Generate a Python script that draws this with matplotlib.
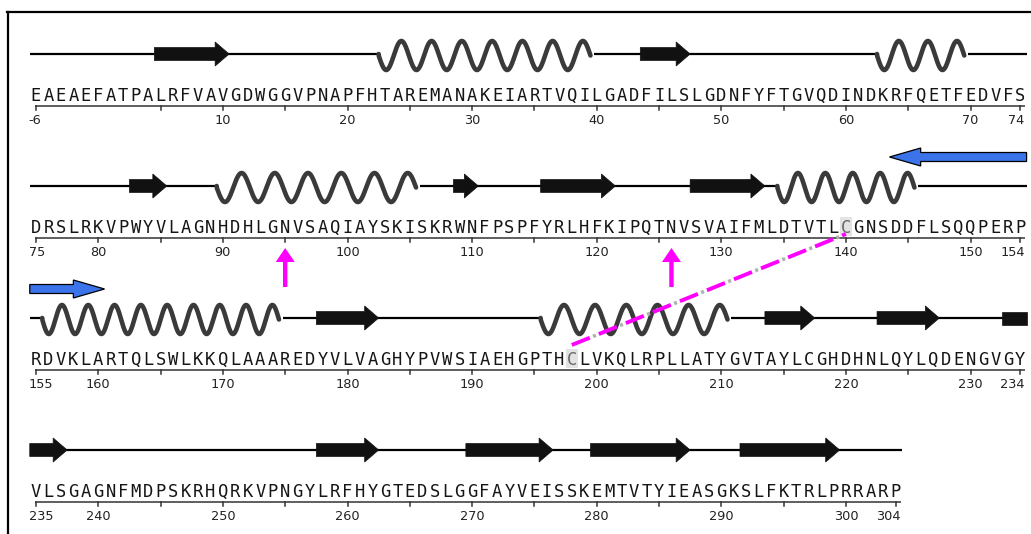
import numpy as np
import matplotlib
matplotlib.use("Agg")
import matplotlib.pyplot as plt
from matplotlib.patches import Polygon, Rectangle
from matplotlib.lines import Line2D

# ---------------- data ----------------
sequence_rows = [
    "EAEAEFATPALRFVAVGDWGGVPNAPFHTAREMANAKEIARTVQILGADFILSLGDNFYFTGVQDINDKRFQETFEDVFS",
    "DRSLRKVPWYVLAGNHDHLGNVSAQIAYSKISKRWNFPSPFYRLHFKIPQTNVSVAIFMLDTVTLCGNSDDFLSQQPERP",
    "RDVKLARTQLSWLKKQLAAAREDYVLVAGHYPVWSIAEHGPTHCLVKQLRPLLATYGVTAYLCGHDHNLQYLQDENGVGY",
    "VLSGAGNFMDPSKRHQRKVPNGYLRFHYGTEDSLGGFAYVEISSKEMTVTYIEASGKSLFKTRLPRRARP",
]
first_residue = -6
last_residue = 304

# beta strands (first, last residue)
strands = [(5, 10), (44, 47), (83, 85), (109, 110), (116, 121), (128, 133),
           (178, 182), (214, 217), (223, 227), (233, 237), (258, 262),
           (270, 276), (280, 287), (292, 299)]
# alpha helices (first, last residue) and number of drawn turns
helices = [(23, 39), (63, 69), (90, 105), (135, 145), (156, 174), (196, 210)]
helix_turns = [7, 3, 6, 5, 9, 6]

blue_bracket = (144, 160)          # two-headed blue marker, split over rows
glyco_sites = [95, 126]            # magenta arrows
disulfide = (198, 140)             # dashed magenta link between cysteines
highlighted = [140, 198]

# ---------------- layout ----------------
W, H, DPI = 1031, 534, 100
PX0, PXR = 36.0, 12.46             # pixel of first residue, pixels per residue
ROW0, ROWSTEP, ROW_LEN = 54, 132, 80

numbers = [n for n in range(first_residue, last_residue + 1) if n != 0]
seq = "".join(sequence_rows)


def gindex(r):
    return numbers.index(r)


def loc(r):
    g = gindex(r)
    return g // ROW_LEN, g % ROW_LEN


def ybase(row):
    return ROW0 + ROWSTEP * row


def pieces(r0, r1):
    g0, g1 = gindex(r0), gindex(r1)
    out = []
    g = g0
    while g <= g1:
        row = g // ROW_LEN
        end = min(g1, (row + 1) * ROW_LEN - 1)
        out.append((row, g % ROW_LEN, end % ROW_LEN, g == g0, end == g1))
        g = end + 1
    return out


plt.rcParams["lines.scale_dashes"] = False
fig = plt.figure(figsize=(W / DPI, H / DPI), dpi=DPI, facecolor="white")
ax = fig.add_axes([0, 0, 1, 1])
ax.set_xlim(-PX0 / PXR, (W - PX0) / PXR)
ax.set_ylim(H, 0)
ax.axis("off")

# frame
fig.add_artist(Line2D([7 / W, 1], [1 - 12 / H, 1 - 12 / H], color="black",
                      lw=1.6, transform=fig.transFigure))
fig.add_artist(Line2D([7.5 / W, 7.5 / W], [0, 1 - 12 / H], color="black",
                      lw=1.6, transform=fig.transFigure))

# ---------------- coil lines ----------------
helix_spans = {}
for (h0, h1) in helices:
    for row, i0, i1, _, _ in pieces(h0, h1):
        helix_spans.setdefault(row, []).append((i0 - 0.5, i1 + 0.5))

for row, s in enumerate(sequence_rows):
    y = ybase(row)
    start = -0.5
    for a, b in sorted(helix_spans.get(row, [])):
        if a > start:
            ax.plot([start, a], [y, y], color="black", lw=1.6, zorder=1,
                    solid_capstyle="butt")
        start = b + 0.3
    end = len(s) - 0.5
    if end > start:
        ax.plot([start, end], [y, y], color="black", lw=1.6, zorder=1,
                solid_capstyle="butt")

# ---------------- helices ----------------
for (h0, h1), turns in zip(helices, helix_turns):
    for row, i0, i1, _, _ in pieces(h0, h1):
        xs, xe = i0 - 0.5, i1 + 0.5
        x = np.linspace(xs, xe, 800)
        yv = ybase(row) + 1.5 + 14.5 * np.sin(2 * np.pi * turns * (x - xs) / (xe - xs))
        yv[0] = ybase(row)
        ax.plot(x, yv, color="#3a3a3a", lw=3.3, zorder=2,
                solid_capstyle="round", solid_joinstyle="round")

# ---------------- strands ----------------
HL = 14 / PXR
for (s0, s1) in strands:
    for row, i0, i1, first, last in pieces(s0, s1):
        y = ybase(row)
        x0, x1 = i0 - 0.5, i1 + 0.5
        if last:
            xb = x1 - HL
            pts = [(x0, y - 6.5), (xb, y - 6.5), (xb, y - 12), (x1, y),
                   (xb, y + 12), (xb, y + 6.5), (x0, y + 6.5)]
        else:
            pts = [(x0, y - 6.5), (x1, y - 6.5), (x1, y + 6.5), (x0, y + 6.5)]
        ax.add_patch(Polygon(pts, closed=True, facecolor="#111111",
                             edgecolor="#111111", lw=0.5, zorder=3))

# ---------------- blue bracket arrows ----------------
BHL = 2.5
for row, i0, i1, first, last in pieces(*blue_bracket):
    y = ybase(row) - 29
    x0, x1 = i0 - 0.5, i1 + 0.5
    if first:   # head pointing left
        xb = x0 + BHL
        pts = [(x1, y - 4.5), (xb, y - 4.5), (xb, y - 9), (x0, y),
               (xb, y + 9), (xb, y + 4.5), (x1, y + 4.5)]
    else:       # head pointing right
        xb = x1 - BHL
        pts = [(x0, y - 4.5), (xb, y - 4.5), (xb, y - 9), (x1, y),
               (xb, y + 9), (xb, y + 4.5), (x0, y + 4.5)]
    ax.add_patch(Polygon(pts, closed=True, facecolor="#3b74ea",
                         edgecolor="black", lw=0.9, zorder=4))

# ---------------- sequence text, axis and ticks ----------------
for r in highlighted:
    row, i = loc(r)
    ax.add_patch(Rectangle((i - 0.5, ybase(row) + 31), 1.0, 19,
                           facecolor="#e3e3e3", edgecolor="none", zorder=0))

for g, ch in enumerate(seq):
    row, i = g // ROW_LEN, g % ROW_LEN
    col = "#6a6a6a" if numbers[g] in highlighted else "#151515"
    ax.text(i, ybase(row) + 47, ch, ha="center", va="baseline",
            fontfamily="DejaVu Sans Mono", fontsize=12.3, color=col, zorder=3)

for row, s in enumerate(sequence_rows):
    ya = ybase(row) + 52
    n = len(s)
    ax.plot([-0.1, n - 1 + 0.4], [ya, ya], color="#333333", lw=1.1, zorder=2,
            solid_capstyle="butt")
    for i in range(n):
        num = numbers[row * ROW_LEN + i]
        is_first, is_last = i == 0, i == n - 1
        if is_first or is_last or (num > 0 and num % 5 == 0):
            ax.plot([i, i], [ya, ya + 4], color="#333333", lw=1.1, zorder=2)
        if is_first or is_last or (num > 0 and num % 10 == 0):
            if is_first:
                xl, ha = i - 0.6, "left"
            elif is_last:
                xl, ha = i + 0.35, "right"
            else:
                xl, ha = i, "center"
            ax.text(xl, ya + 18, str(num), ha=ha, va="baseline",
                    fontfamily="DejaVu Sans", fontsize=9.3, color="#222222")

# ---------------- glycosylation arrows ----------------
for r in glyco_sites:
    row, i = loc(r)
    ya = ybase(row) + 52
    hw, sw = 9.5 / PXR, 2.2 / PXR
    pts = [(i, ya + 10), (i + hw, ya + 24), (i + sw, ya + 24), (i + sw, ya + 49),
           (i - sw, ya + 49), (i - sw, ya + 24), (i - hw, ya + 24)]
    ax.add_patch(Polygon(pts, closed=True, facecolor="#ff00ff",
                         edgecolor="none", zorder=5))

# ---------------- disulfide link ----------------
ra, rb = disulfide
rowa, ia = loc(ra)
rowb, ib = loc(rb)
xa, ya_ = ia, ybase(rowa) + 27
xb, yb_ = ib, ybase(rowb) + 48
ax.plot([xa, xb], [ya_, yb_], color="#b0b0b0", lw=2.6, zorder=5,
        linestyle=(4.5, (2.2, 18.8)), solid_capstyle="butt")
ax.plot([xa, xb], [ya_, yb_], color="#ff00ff", lw=2.8, zorder=5,
        linestyle=(0, (14.0, 7.0)), dash_capstyle="butt")

fig.savefig("out.png", dpi=DPI, facecolor="white")
